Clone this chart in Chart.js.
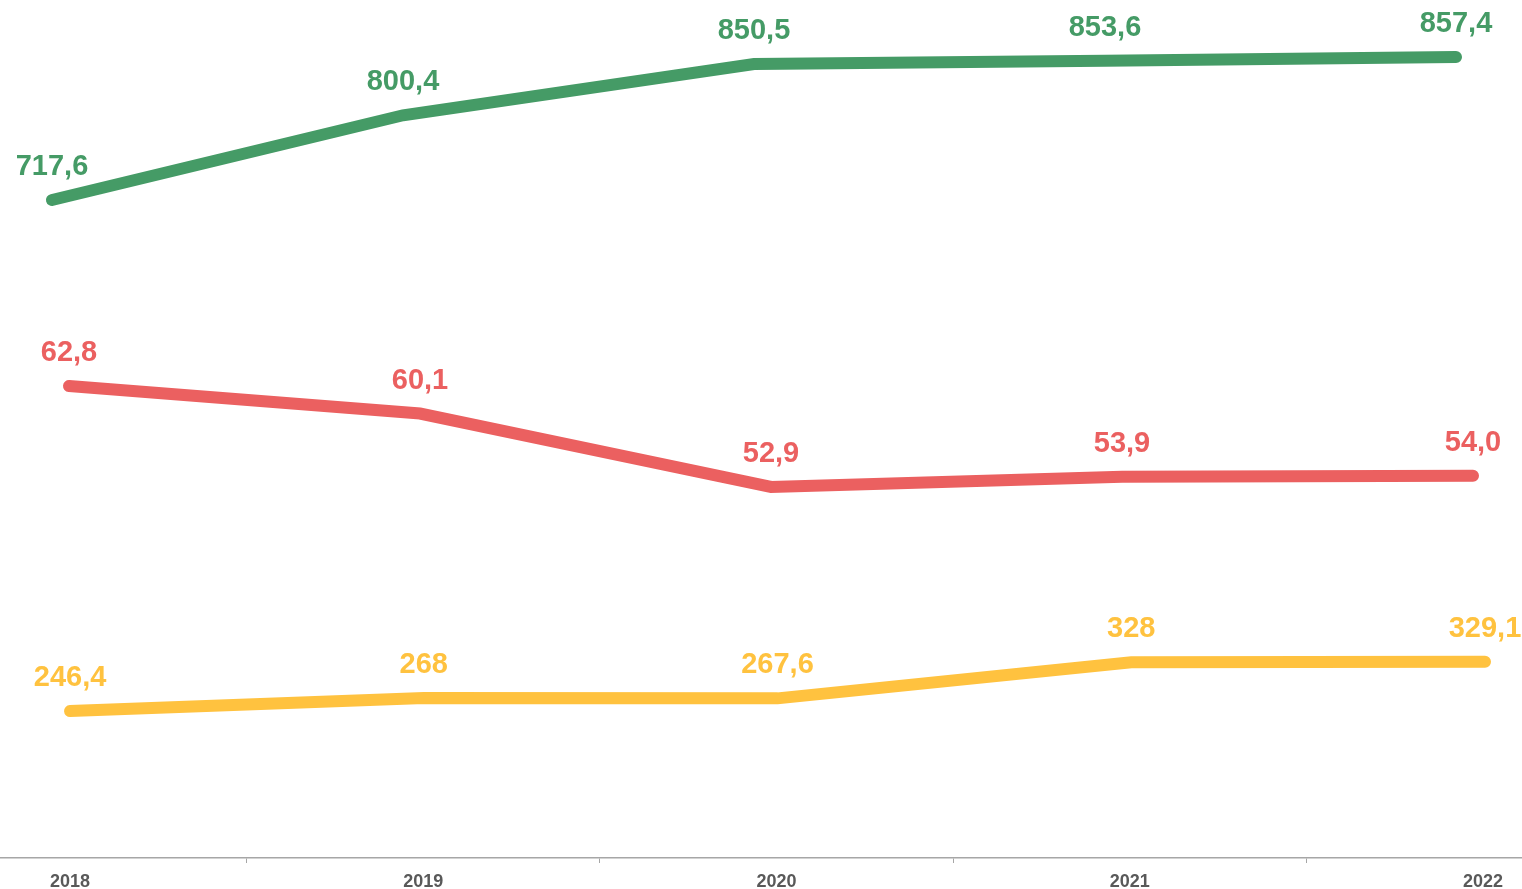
<!DOCTYPE html>
<html>
<head>
<meta charset="utf-8">
<script src="https://cdn.jsdelivr.net/npm/chart.js@4"></script>
<style>
  html, body { margin: 0; padding: 0; background: #fff; }
  #wrap { width: 1522px; height: 889px; }
</style>
</head>
<body>
<div id="wrap"><canvas id="chart" width="1522" height="889"></canvas></div>
<script>
// years on the x axis
const years = [2018, 2019, 2020, 2021, 2022];

// series values
const greenValues = [717.6, 800.4, 850.5, 853.6, 857.4];
const redValues = [62.8, 60.1, 52.9, 53.9, 54.0];
const yellowValues = [246.4, 268, 267.6, 328, 329.1];

const GREEN = '#459b66';
const RED = '#eb6060';
const YELLOW = '#ffc23f';

const toPoints = vals => years.map((yr, i) => ({ x: yr, y: vals[i] }));

// decimal comma, like the original
const fmtPlain = v => String(v).replace('.', ',');
const fmtFixed = v => v.toFixed(1).replace('.', ',');

// simple inline value labels above each point
const valueLabels = {
  id: 'valueLabels',
  afterDatasetsDraw(chart) {
    const ctx = chart.ctx;
    ctx.save();
    ctx.font = 'bold 29px "Liberation Sans", Arial, sans-serif';
    ctx.textAlign = 'center';
    ctx.textBaseline = 'middle';
    chart.data.datasets.forEach((ds, di) => {
      const meta = chart.getDatasetMeta(di);
      ctx.fillStyle = ds.borderColor;
      meta.data.forEach((pt, i) => {
        ctx.fillText(ds.fmt(ds.data[i].y), pt.x, pt.y - 33);
      });
    });
    ctx.restore();
  }
};

const hidden = (min, max) => ({ type: 'linear', display: false, min, max });

new Chart(document.getElementById('chart'), {
  type: 'line',
  data: {
    datasets: [
      { data: toPoints(greenValues), borderColor: GREEN, xAxisID: 'xg', yAxisID: 'yg', fmt: fmtPlain },
      { data: toPoints(redValues), borderColor: RED, xAxisID: 'xr', yAxisID: 'yr', fmt: fmtFixed },
      { data: toPoints(yellowValues), borderColor: YELLOW, xAxisID: 'xy', yAxisID: 'yy', fmt: fmtPlain }
    ].map(d => Object.assign({
      borderWidth: 12,
      borderCapStyle: 'round',
      pointRadius: 0,
      tension: 0,
      fill: false
    }, d))
  },
  options: {
    responsive: false,
    animation: false,
    layout: { padding: 0 },
    plugins: { legend: { display: false }, tooltip: { enabled: false } },
    scales: {
      x: {
        type: 'linear',
        position: 'bottom',
        min: 2017.8018,
        max: 2022.1104,
        afterBuildTicks: axis => {
          const t = [];
          for (let v = 2018; v <= 2022; v += 0.5) t.push({ value: v });
          axis.ticks = t;
        },
        afterFit: axis => { axis.height = 31; },
        border: { display: true, color: '#a6a6a6', width: 1.5 },
        grid: {
          drawOnChartArea: false,
          drawTicks: true,
          tickLength: 5,
          color: c => (c.tick && c.tick.value % 1 !== 0) ? '#a6a6a6' : 'rgba(0,0,0,0)'
        },
        ticks: {
          autoSkip: false,
          maxRotation: 0,
          padding: 8,
          color: '#595959',
          font: { family: '"Liberation Sans", Arial, sans-serif', size: 18, weight: 'bold' },
          callback: v => (v % 1 === 0 ? String(v) : '')
        }
      },
      xg: hidden(2017.8519, 2022.188),
      xr: hidden(2017.8034, 2022.1396),
      xy: hidden(2017.802, 2022.1046),
      yg: hidden(74.3, 913.1),
      yr: hidden(16.53, 100.64),
      yy: hidden(0, 1438.2)
    }
  },
  plugins: [valueLabels]
});
</script>
</body>
</html>
